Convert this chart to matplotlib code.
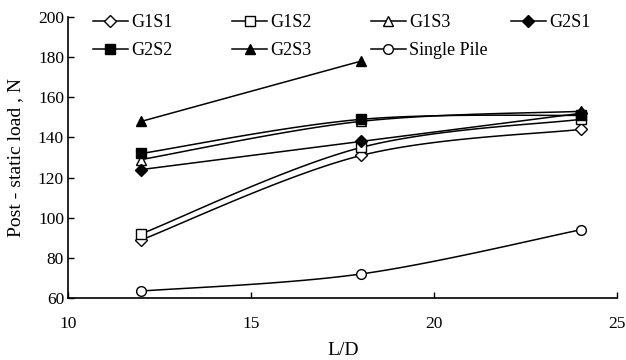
import numpy as np
import matplotlib
matplotlib.use("Agg")
import matplotlib.pyplot as plt
from matplotlib.lines import Line2D
from matplotlib.legend import Legend

plt.rcParams['font.family'] = ['Liberation Serif', 'DejaVu Serif']

x_vals = [12, 18, 24]
series_names = ["G1S1", "G1S2", "G1S3", "G2S1", "G2S2", "G2S3", "Single Pile"]
g1s1 = [89, 131, 144]
g1s2 = [92, 135, 149]
g1s3 = [129, 148, 153]
g2s1 = [124, 138, 152]
g2s2 = [132, 149, 151]
g2s3 = [148, 178]
single = [63.5, 72, 94]

data = [g1s1, g1s2, g1s3, g2s1, g2s2, g2s3, single]
markers = ['D', 's', '^', 'D', 's', '^', 'o']
fills = ['white', 'white', 'white', 'black', 'black', 'black', 'white']
msizes = [6.5, 7, 7, 6.5, 7, 7, 7]


def smooth(xs, ys, n=40):
    P = np.column_stack([xs, ys]).astype(float)
    if len(P) < 3:
        return P[:, 0], P[:, 1]
    out = []
    m = len(P)
    for i in range(m - 1):
        p0 = P[max(i - 1, 0)]
        p1 = P[i]
        p2 = P[i + 1]
        p3 = P[min(i + 2, m - 1)]
        c1 = p1 + (p2 - p0) / 6.0
        c2 = p2 - (p3 - p1) / 6.0
        t = np.linspace(0, 1, n)[:, None]
        seg = ((1 - t) ** 3) * p1 + 3 * ((1 - t) ** 2) * t * c1 + 3 * (1 - t) * t ** 2 * c2 + t ** 3 * p2
        out.append(seg if i == 0 else seg[1:])
    S = np.vstack(out)
    return S[:, 0], S[:, 1]


fig = plt.figure(figsize=(6.26, 3.6), dpi=100)
ax = fig.add_axes([0.109, 0.172, 0.877, 0.781])

handles = []
for name, ys, mk, fc, ms in zip(series_names, data, markers, fills, msizes):
    xs = x_vals[:len(ys)]
    sx, sy = smooth(xs, ys)
    ax.plot(sx, sy, color='black', lw=1.1, zorder=2)
    ax.plot(xs, ys, linestyle='none', marker=mk, markersize=ms,
            markerfacecolor=fc, markeredgecolor='black', markeredgewidth=1.0, zorder=3)
    handles.append(Line2D([], [], color='black', lw=1.1, marker=mk, markersize=ms,
                          markerfacecolor=fc, markeredgecolor='black', markeredgewidth=1.0))

ax.set_xlim(10, 25)
ax.set_ylim(60, 200)
ax.set_xticks([10, 15, 20, 25])
ax.set_yticks(range(60, 201, 20))
ax.tick_params(direction='in', length=4, width=1, labelsize=12.5, colors='black')
ax.tick_params(axis='x', pad=13)
ax.tick_params(axis='y', pad=3)
ax.spines['top'].set_visible(False)
ax.spines['right'].set_visible(False)
for s in ['left', 'bottom']:
    ax.spines[s].set_linewidth(1.2)
ax.set_xlabel('L/D', fontsize=14, labelpad=7)
ax.set_ylabel('Post - static load , N', fontsize=14, labelpad=10)

# legend laid out as 4 equal-width columns, row-major
col_x = [0.0455, 0.299, 0.552, 0.807]
for c in range(4):
    idx = [i for i in (c, c + 4) if i < len(series_names)]
    leg = Legend(ax, [handles[i] for i in idx], [series_names[i] for i in idx],
                 loc='upper left', bbox_to_anchor=(col_x[c], 1.01),
                 frameon=False, fontsize=13, handlelength=1.9, handletextpad=0.2,
                 labelspacing=0.6, borderpad=0, borderaxespad=0)
    ax.add_artist(leg)

fig.savefig('out.png', dpi=100)
